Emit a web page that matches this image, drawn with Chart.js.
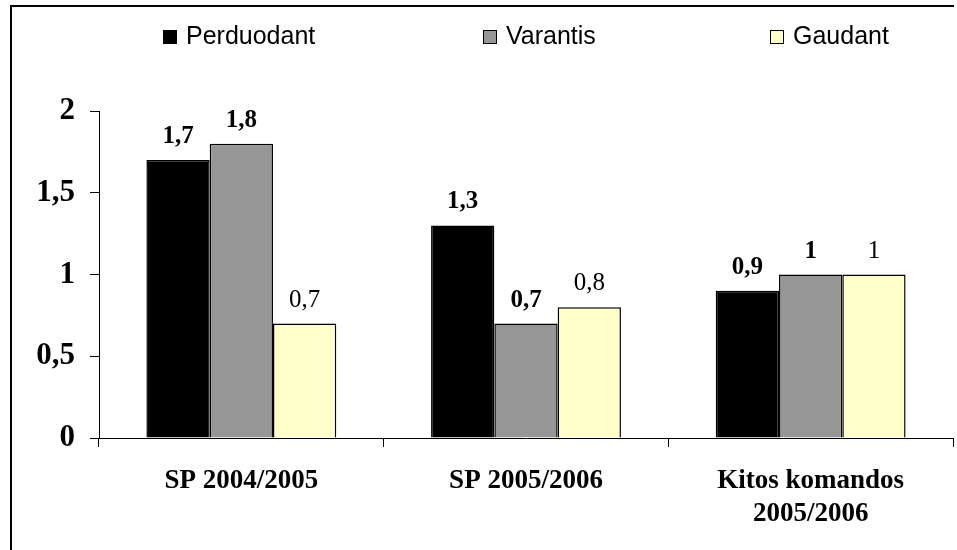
<!DOCTYPE html>
<html>
<head>
<meta charset="utf-8">
<script src="https://cdn.jsdelivr.net/npm/chart.js@4/dist/chart.umd.min.js"></script>
<style>
  body { margin: 0; background: #fff; }
  #wrap { position: relative; width: 957px; height: 550px; }
  #frame {
    position: absolute; left: 10px; top: 5px; width: 942px; height: 560px;
    border-top: 2px solid #000; border-left: 2px solid #000; pointer-events: none;
  }
</style>
</head>
<body>
<div id="wrap">
  <canvas id="chart"></canvas>
  <div id="frame"></div>
</div>
<script>
const categories = ['SP 2004/2005', 'SP 2005/2006', ['Kitos komandos', '2005/2006']];
const seriesNames = ['Perduodant', 'Varantis', 'Gaudant'];
const perduodant = [1.7, 1.3, 0.9];
const varantis = [1.8, 0.7, 1];
const gaudant = [0.7, 0.8, 1];
const yTicks = [0, 0.5, 1, 1.5, 2];

const colors = ['#000000', '#969696', '#FFFFCC'];
const labelBold = [true, true, false];

const fmt = v => String(v).replace('.', ',');

// legend drawn by hand, items spread wide like the original
const topLegend = {
  id: 'topLegend',
  afterDraw(chart) {
    const ctx = chart.ctx;
    const xs = [163, 483, 770];
    ctx.save();
    chart.data.datasets.forEach((ds, i) => {
      ctx.fillStyle = ds.backgroundColor;
      ctx.fillRect(xs[i], 30, 14, 14);
      ctx.strokeStyle = '#000';
      ctx.lineWidth = 1;
      ctx.strokeRect(xs[i] + 0.5, 30.5, 13, 13);
      ctx.fillStyle = '#000';
      ctx.font = '25px "Liberation Sans", Arial, sans-serif';
      ctx.textAlign = 'left';
      ctx.textBaseline = 'middle';
      ctx.fillText(ds.label, xs[i] + 23, 37);
    });
    ctx.restore();
  }
};

const valueLabels = {
  id: 'valueLabels',
  afterDatasetsDraw(chart) {
    const ctx = chart.ctx;
    ctx.save();
    ctx.fillStyle = '#000';
    ctx.textAlign = 'center';
    ctx.textBaseline = 'alphabetic';
    chart.data.datasets.forEach((ds, i) => {
      ctx.font = (labelBold[i] ? 'bold ' : '') + '25px "Liberation Serif", "Times New Roman", serif';
      chart.getDatasetMeta(i).data.forEach((bar, j) => {
        ctx.fillText(fmt(ds.data[j]), bar.x, bar.y - 17);
      });
    });
    ctx.restore();
  }
};

new Chart(document.getElementById('chart'), {
  type: 'bar',
  data: {
    labels: categories,
    datasets: [perduodant, varantis, gaudant].map((d, i) => ({
      label: seriesNames[i],
      data: d,
      backgroundColor: colors[i],
      borderColor: '#000',
      borderWidth: 1.5,
      categoryPercentage: 0.667,
      barPercentage: 1
    }))
  },
  options: {
    responsive: true,
    maintainAspectRatio: false,
    animation: false,
    layout: { padding: { top: 111, left: 0, right: 4, bottom: 0 } },
    plugins: {
      legend: { display: false },
      tooltip: { enabled: false }
    },
    scales: {
      x: {
        grid: { drawOnChartArea: false, drawTicks: true, tickLength: 9, color: '#000' },
        border: { display: true, color: '#000', width: 1 },
        ticks: {
          color: '#000',
          padding: 18,
          font: { family: '"Liberation Serif", "Times New Roman", serif', size: 27, weight: 'bold', lineHeight: 1.2 }
        },
        afterFit: s => { s.height = 112; }
      },
      y: {
        min: 0,
        max: 2,
        afterBuildTicks: s => { s.ticks = yTicks.map(v => ({ value: v })); },
        grid: { drawOnChartArea: false, drawTicks: true, tickLength: 9, color: '#000' },
        border: { display: true, color: '#000', width: 1 },
        ticks: {
          color: '#000',
          padding: 15,
          callback: v => fmt(v),
          font: { family: '"Liberation Serif", "Times New Roman", serif', size: 31, weight: 'bold' }
        },
        afterFit: s => { s.width = 99; }
      }
    }
  },
  plugins: [topLegend, valueLabels]
});
</script>
</body>
</html>
